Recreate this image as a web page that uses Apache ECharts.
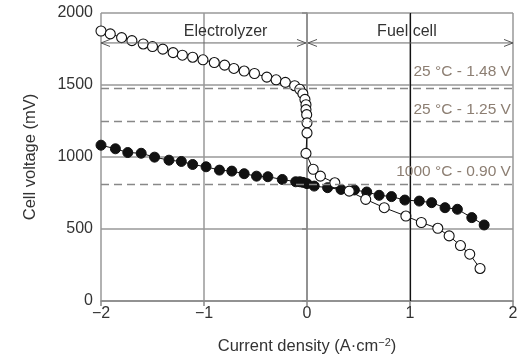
<!DOCTYPE html>
<html><head><meta charset="utf-8">
<script src="https://cdn.jsdelivr.net/npm/echarts@6/dist/echarts.min.js"></script>
<style>html,body{margin:0;padding:0;background:#fff}#c{width:529px;height:360px}</style>
</head><body><div id="c"></div>
<script>
const xTicks = [-2, -1, 0, 1, 2];
const yTicks = [0, 500, 1000, 1500, 2000];
const openCircle = [[-2.0,1875],[-1.91,1855],[-1.80,1829],[-1.70,1808],[-1.59,1785],[-1.50,1767],[-1.40,1749],[-1.30,1725],[-1.21,1707],[-1.11,1693],[-1.01,1675],[-0.90,1656],[-0.80,1638],[-0.71,1615],[-0.61,1597],[-0.51,1580],[-0.39,1555],[-0.30,1536],[-0.21,1518],[-0.12,1495],[-0.07,1470],[-0.04,1440],[-0.02,1400],[-0.01,1363],[-0.01,1329],[-0.003,1294],[0,1237],[0,1167],[-0.01,1025],[0.06,915],[0.13,867],[0.27,821],[0.41,763],[0.57,706],[0.75,648],[0.96,590],[1.11,545],[1.27,505],[1.38,452],[1.49,385],[1.58,325],[1.68,226]];
const filledCircle = [[-2.0,1082],[-1.86,1057],[-1.74,1031],[-1.61,1026],[-1.48,999],[-1.34,978],[-1.22,969],[-1.11,948],[-0.98,932],[-0.85,909],[-0.73,902],[-0.61,884],[-0.49,867],[-0.38,863],[-0.24,844],[-0.11,828],[-0.07,828],[-0.04,824],[0.0,815],[0.07,798],[0.20,787],[0.33,775],[0.46,771],[0.58,757],[0.70,734],[0.82,725],[0.95,701],[1.09,694],[1.21,683],[1.34,648],[1.46,637],[1.60,579],[1.72,528]];
const refValues = [1474, 1246, 810];
const refLabels = ['25 °C - 1.48 V', '25 °C - 1.25 V', '1000 °C - 0.90 V'];
const refLabelY = [1592, 1329, 900];
const refLabelX = 1.98;
const regionNames = ['Electrolyzer', 'Fuel cell'];
const regionSpans = [[-2, -0.01], [0.01, 2]];
const regionLabelX = [-0.79, 0.97];
const regionArrowY = 1792;
const regionLabelY = 1868;

const FONT = 'Liberation Sans, Arial, sans-serif';
const chart = echarts.init(document.getElementById('c'));

function arrowHead(tip, dir) {
  const L = 9, W = 3.5;
  return {
    type: 'polyline',
    shape: { points: [[tip[0] - dir * L, tip[1] - W], tip, [tip[0] - dir * L, tip[1] + W]] },
    style: { stroke: '#555', lineWidth: 1, fill: null }
  };
}

chart.setOption({
  animation: false,
  grid: { left: 101, right: 16, top: 13, bottom: 58 },
  xAxis: {
    type: 'value', min: -2, max: 2, interval: 1,
    name: 'Current density (A·cm{sup|−2})',
    nameLocation: 'middle', nameGap: 36,
    nameTextStyle: { fontFamily: FONT, fontSize: 16.5, color: '#333',
      rich: { sup: { fontFamily: FONT, fontSize: 11, color: '#333', verticalAlign: 'top', padding: [0,0,8,0] } } },
    axisLine: { show: true, onZero: false, lineStyle: { color: '#888', width: 1.5 } },
    axisTick: { show: true, length: 5, lineStyle: { color: '#888', width: 1.5 } },
    axisLabel: { fontFamily: FONT, fontSize: 16, color: '#333', margin: 5,
      formatter: v => (v < 0 ? '\u2212' + Math.abs(v) : String(v)) },
    splitLine: { show: true, lineStyle: { color: '#999', width: 1.5 } }
  },
  yAxis: {
    type: 'value', min: 0, max: 2000, interval: 500,
    name: 'Cell voltage (mV)', nameLocation: 'middle', nameGap: 62,
    nameTextStyle: { fontFamily: FONT, fontSize: 16.5, color: '#333' },
    axisLine: { show: true, lineStyle: { color: '#888', width: 1.5 } },
    axisTick: { show: true, length: 5, lineStyle: { color: '#888', width: 1.5 } },
    axisLabel: { fontFamily: FONT, fontSize: 16, color: '#333', margin: 8, formatter: v => String(v) },
    splitLine: { show: true, lineStyle: { color: '#999', width: 1.5 } }
  },
  series: [
    {
      type: 'line', data: filledCircle, symbol: 'circle', symbolSize: 10,
      itemStyle: { color: '#111', borderColor: '#111', borderWidth: 1 },
      lineStyle: { color: '#111', width: 1 }, z: 3,
      markLine: {
        silent: true, symbol: 'none', label: { show: false },
        data: refValues.map(v => ({ yAxis: v, lineStyle: { color: '#888', width: 1.3, type: [8, 5] } }))
          .concat([{ xAxis: 1, lineStyle: { color: '#111', width: 1.2, type: 'solid' } }])
      }
    },
    {
      type: 'line', data: openCircle, symbol: 'circle', symbolSize: 10,
      itemStyle: { color: '#fff', borderColor: '#111', borderWidth: 1.1 },
      lineStyle: { color: '#111', width: 1 }, z: 4
    },
    {
      type: 'custom', z: 5, silent: true,
      data: regionSpans.map((s, i) => [s[0], s[1], regionLabelX[i], i]),
      renderItem: (params, api) => {
        const i = api.value(3);
        const p0 = api.coord([api.value(0), regionArrowY]);
        const p1 = api.coord([api.value(1), regionArrowY]);
        const pt = api.coord([api.value(2), regionLabelY]);
        return {
          type: 'group',
          children: [
            { type: 'line', shape: { x1: p0[0], y1: p0[1], x2: p1[0], y2: p1[1] }, style: { stroke: '#666', lineWidth: 1 } },
            arrowHead(p0, -1), arrowHead(p1, 1),
            { type: 'text', x: pt[0], y: pt[1], style: { text: regionNames[i], fontFamily: FONT, fontSize: 16, fill: '#333', align: 'center', verticalAlign: 'middle' } }
          ]
        };
      }
    },
    {
      type: 'custom', z: 5, silent: true,
      data: refLabelY.map((y, i) => [refLabelX, y, i]),
      renderItem: (params, api) => {
        const p = api.coord([api.value(0), api.value(1)]);
        return { type: 'text', x: p[0], y: p[1],
          style: { text: refLabels[api.value(2)], fontFamily: FONT, fontSize: 15.5, fill: '#8c7e72', align: 'right', verticalAlign: 'middle' } };
      }
    }
  ]
});
</script></body></html>
